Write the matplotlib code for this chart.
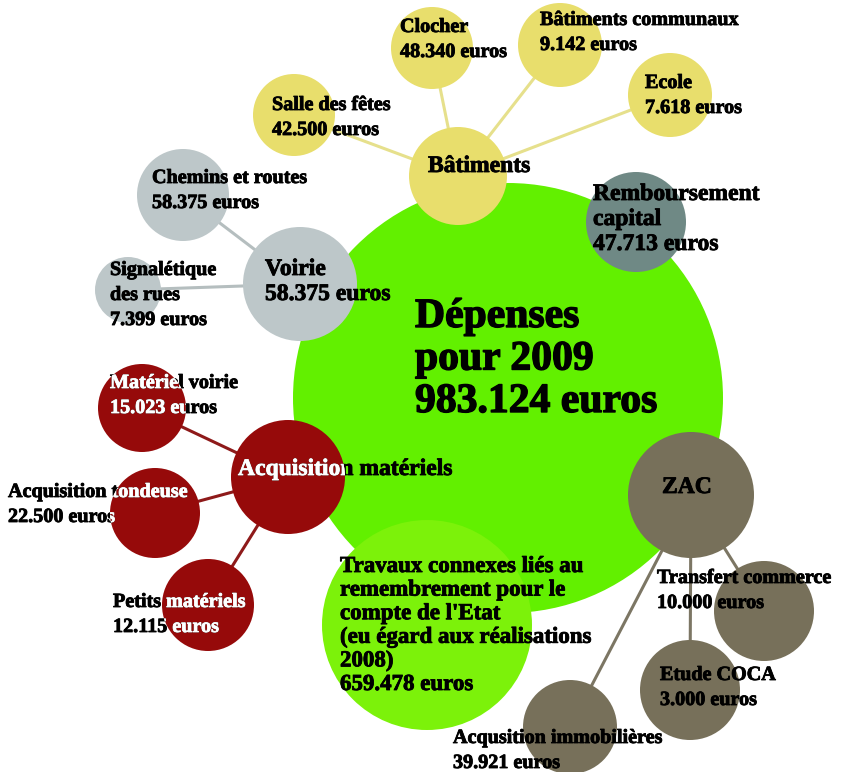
import matplotlib
matplotlib.use("Agg")
from matplotlib import pyplot as plt
from matplotlib import patheffects
from matplotlib.patches import Circle

# Budget 2009 - amounts in euros
total_label = "Dépenses\npour 2009"
total_amount = 983124

travaux_label = ("Travaux connexes liés au\nremembrement pour le\ncompte de l'Etat\n"
                 "(eu égard aux réalisations\n2008)")
travaux_amount = 659478

remboursement_label = "Remboursement\ncapital"
remboursement_amount = 47713

batiments_items = ["Clocher", "Bâtiments communaux", "Ecole", "Salle des fêtes"]
batiments_amounts = [48340, 9142, 7618, 42500]

voirie_amount = 58375
voirie_items = ["Chemins et routes", "Signalétique\ndes rues"]
voirie_amounts = [58375, 7399]

materiel_items = ["Matériel voirie", "Acquisition tondeuse", "Petits matériels"]
materiel_amounts = [15023, 22500, 12115]

zac_items = ["Transfert commerce", "Etude COCA", "Acqusition immobilières"]
zac_amounts = [10000, 3000, 39921]


def euros(v):
    return "{:,} euros".format(v).replace(",", ".")


# Layout (pixels): circle centre x, y, radius, text x, first baseline y
layout = {
    "total": (508, 398, 215, 415, 327),
    "travaux": (427, 625, 105, 340, 572),
    "remboursement": (636, 222, 50, 593, 200),
    "Bâtiments": (458, 176, 49, 428, 172),
    "Clocher": (432, 48, 41, 400, 32),
    "Bâtiments communaux": (560, 45, 42, 540, 25),
    "Ecole": (670, 95, 42, 645, 88),
    "Salle des fêtes": (294, 115, 41, 272, 110),
    "Voirie": (300, 284, 57, 265, 275),
    "Chemins et routes": (183, 195, 46, 152, 183),
    "Signalétique\ndes rues": (128, 290, 33, 110, 275),
    "Acquisition matériels": (288, 477, 57, 238, 475),
    "Matériel voirie": (142, 408, 44, 110, 388),
    "Acquisition tondeuse": (155, 513, 45, 8, 497),
    "Petits matériels": (208, 605, 46, 113, 607),
    "ZAC": (691, 495, 63, 662, 493),
    "Transfert commerce": (764, 611, 50, 657, 583),
    "Etude COCA": (690, 690, 50, 660, 680),
    "Acqusition immobilières": (570, 727, 47, 453, 743),
}

colors = {
    "total": "#62F000", "travaux": "#7CF20A", "remboursement": "#6F8985",
    "Bâtiments": "#E8DE6C", "Voirie": "#BDC7C9",
    "Acquisition matériels": "#960A0A", "ZAC": "#77705A",
}
line_colors = {
    "Bâtiments": "#E6E08C", "Voirie": "#B5BEBF",
    "Acquisition matériels": "#8E1A1A", "ZAC": "#7C7664",
}

FONT = "Liberation Serif"
SMALL, MEDIUM = 14.5, 17

fig = plt.figure(figsize=(8.45, 7.72), dpi=100)
ax = fig.add_axes([0, 0, 1, 1])
ax.set_xlim(0, 845)
ax.set_ylim(772, 0)
ax.axis("off")

patches = {}


def circle(name, color, z):
    x, y, r = layout[name][:3]
    c = Circle((x, y), r, facecolor=color, edgecolor="none", zorder=z)
    ax.add_patch(c)
    patches[name] = c


def label(name, text, size, step=25, clip=False):
    tx, ty = layout[name][3:]
    heavy = 0.6 if size < 25 else 1.0
    for i, line in enumerate(text.split("\n")):
        ax.text(tx, ty + i * step, line, fontsize=size, family=FONT, weight="bold",
                ha="left", va="baseline", color="black", zorder=10,
                path_effects=[patheffects.withStroke(linewidth=heavy, foreground="black")])
        if clip:
            # white where the text sits on the dark red circle
            t = ax.text(tx, ty + i * step, line, fontsize=size, family=FONT,
                        weight="bold", ha="left", va="baseline", color="white",
                        zorder=11, clip_on=True,
                        path_effects=[patheffects.withStroke(linewidth=heavy,
                                                             foreground="white")])
            t.set_clip_path(patches[name])


# Central circles
circle("total", colors["total"], 1)
circle("travaux", colors["travaux"], 2)
circle("remboursement", colors["remboursement"], 2)

groups = [
    ("Bâtiments", batiments_items, batiments_amounts),
    ("Voirie", voirie_items, voirie_amounts),
    ("Acquisition matériels", materiel_items, materiel_amounts),
    ("ZAC", zac_items, zac_amounts),
]

for group, items, amounts in groups:
    gx, gy = layout[group][:2]
    for item in items:
        ix, iy = layout[item][:2]
        ax.plot([gx, ix], [gy, iy], color=line_colors[group], lw=2.2,
                solid_capstyle="butt", zorder=3)
    circle(group, colors[group], 4)
    for item in items:
        circle(item, colors[group], 4)

# Texts
label("total", total_label + "\n" + euros(total_amount), 30, step=42.5)
label("travaux", travaux_label + "\n" + euros(travaux_amount), 16.5, step=23.6)
label("remboursement", remboursement_label + "\n" + euros(remboursement_amount), MEDIUM)

label("Bâtiments", "Bâtiments", MEDIUM)
for item, amount in zip(batiments_items, batiments_amounts):
    label(item, item + "\n" + euros(amount), SMALL)

label("Voirie", "Voirie\n" + euros(voirie_amount), MEDIUM)
for item, amount in zip(voirie_items, voirie_amounts):
    label(item, item + "\n" + euros(amount), SMALL)

label("Acquisition matériels", "Acquisition matériels", MEDIUM, clip=True)
for item, amount in zip(materiel_items, materiel_amounts):
    label(item, item + "\n" + euros(amount), SMALL, clip=True)

label("ZAC", "ZAC", MEDIUM)
for item, amount in zip(zac_items, zac_amounts):
    label(item, item + "\n" + euros(amount), SMALL)

fig.savefig("out.png", dpi=100, facecolor="white")
